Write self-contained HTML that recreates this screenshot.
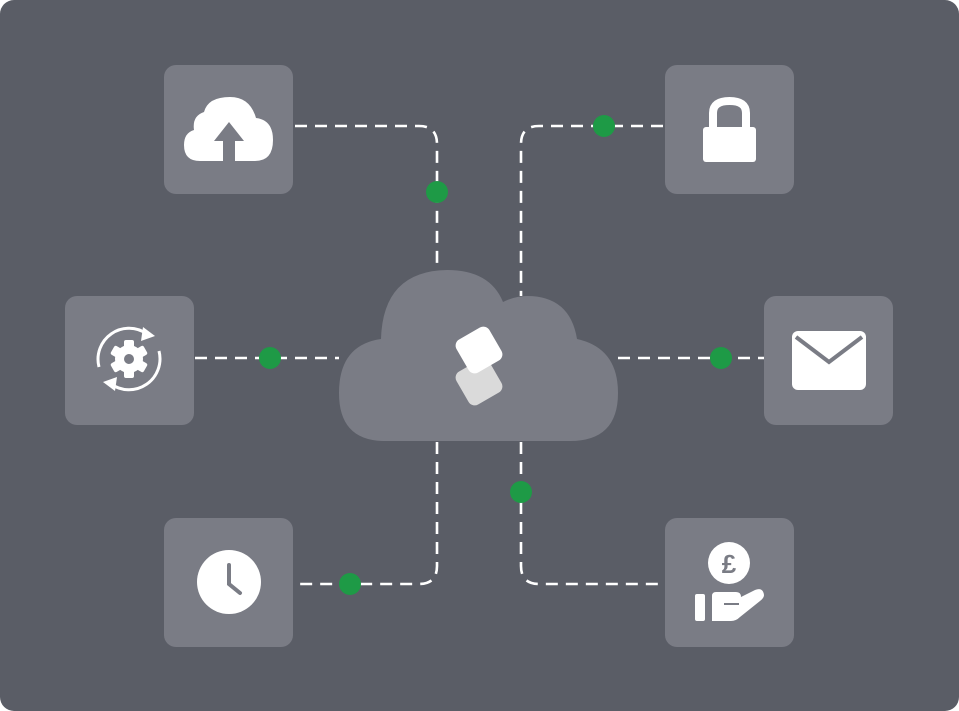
<!DOCTYPE html>
<html><head><meta charset="utf-8"><style>
html,body{margin:0;padding:0;background:#fff;}
svg{display:block}
</style></head><body>
<svg width="959" height="711" viewBox="0 0 959 711" xmlns="http://www.w3.org/2000/svg">
<rect x="0" y="0" width="959" height="711" rx="14" fill="#5a5d66"/>
<g fill="none" stroke="#fff" stroke-width="2.6" stroke-dasharray="12 8">
<path d="M295 126 H419 Q437 126 437 144 V268"/>
<path d="M663 126 H539 Q521 126 521 144 V296"/>
<path d="M195 358 H339"/>
<path d="M618 358 H764"/>
<path d="M437 442 V566 Q437 584 419 584 H295"/>
<path d="M521 442 V566 Q521 584 539 584 H663"/>
</g>
<g fill="#1e9a46">
<circle cx="437" cy="192" r="11"/>
<circle cx="604" cy="126" r="11"/>
<circle cx="270" cy="358" r="11"/>
<circle cx="721" cy="358" r="11"/>
<circle cx="350" cy="584" r="11"/>
<circle cx="521" cy="492" r="11"/>
</g>
<g fill="#7a7c85">
<rect x="164" y="65" width="129" height="129" rx="12"/>
<rect x="665" y="65" width="129" height="129" rx="12"/>
<rect x="65" y="296" width="129" height="129" rx="12"/>
<rect x="764" y="296" width="129" height="129" rx="12"/>
<rect x="164" y="518" width="129" height="129" rx="12"/>
<rect x="665" y="518" width="129" height="129" rx="12"/>
</g>
<path fill="#7a7c85" d="M385 441 Q339 441 339 393 Q339 345 381 339 Q383 271 447 270 Q490 270 503 302 Q515 296 527 296 Q570 296 577 339 Q618 348 618 393 Q618 441 570 441 Z"/>
<g transform="translate(479 382) rotate(-30)"><rect x="-19" y="-19" width="38" height="38" rx="7" fill="#dadada"/></g>
<g transform="translate(479 350) rotate(-30)"><rect x="-19" y="-19" width="38" height="38" rx="7" fill="#fff"/></g>
<path fill="#fff" d="M200 161 Q184 161 184 145 Q184 133 194 130 Q192 116 204 112 Q208 97 230 97 Q250 97 256 118 Q273 120 273 140 Q273 161 255 161 Z"/>
<path fill="#7a7c85" d="M229 122 L214 141 H223 V161 H235 V141 H244 Z"/>
<rect x="703" y="127" width="53" height="35" rx="3" fill="#fff"/>
<path d="M713 129 V113 Q713 101 729.5 101 Q746 101 746 113 V129" fill="none" stroke="#fff" stroke-width="8"/>
<g transform="translate(129 359)">
<g fill="#fff">
<rect x="-5" y="-19" width="10" height="38" rx="2"/>
<rect x="-5" y="-19" width="10" height="38" rx="2" transform="rotate(60)"/>
<rect x="-5" y="-19" width="10" height="38" rx="2" transform="rotate(120)"/>
<circle r="14"/>
</g>
<circle r="5" fill="#7a7c85"/>
<path d="M-30 8 A31 31 0 0 1 18 -25" fill="none" stroke="#fff" stroke-width="3"/>
<path d="M30 -8 A31 31 0 0 1 -18 25" fill="none" stroke="#fff" stroke-width="3"/>
<path d="M14 -32 L26 -23 L12 -18 Z" fill="#fff"/>
<path d="M-14 32 L-26 23 L-12 18 Z" fill="#fff"/>
</g>
<rect x="792" y="331" width="74" height="59" rx="6" fill="#fff"/>
<path d="M796 337 L829 362 L862 337" fill="none" stroke="#7a7c85" stroke-width="4"/>
<circle cx="229" cy="582" r="32" fill="#fff"/>
<path d="M229 565 V584 L240 593" fill="none" stroke="#7a7c85" stroke-width="4" stroke-linecap="round"/>
<circle cx="729" cy="563" r="21" fill="#fff"/>
<text x="729" y="573" text-anchor="middle" font-family="Liberation Sans, sans-serif" font-weight="bold" font-size="26" fill="#7a7c85">£</text>
<rect x="695" y="594" width="10" height="27" rx="2" fill="#fff"/>
<path d="M712 596 Q712 592 716 592 H736 Q741 592 741 597 L755 590 Q763 587 764 595 Q764 598 760 601 L740 617 Q736 621 731 621 H712 Z" fill="#fff"/>
<path d="M724 604 H739" stroke="#7a7c85" stroke-width="2" fill="none"/>
</svg>
</body></html>
